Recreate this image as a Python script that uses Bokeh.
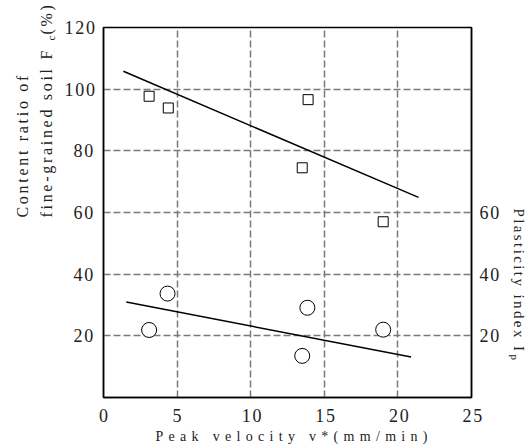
import math
from bokeh.plotting import figure
from bokeh.models import LinearAxis, FixedTicker, Range1d, Label, CustomJS
from bokeh.document import Document
from bokeh.embed import file_html
from bokeh.resources import INLINE

# ---- data ----
fc_velocity = [3.1, 4.4, 13.9, 13.5, 19.0]
fc_content = [97.7, 93.9, 96.6, 74.5, 57.0]
ip_velocity = [3.1, 4.35, 13.85, 13.5, 19.0]
ip_index = [21.9, 33.7, 29.1, 13.5, 22.0]
fc_fit_x = [1.35, 21.4]
fc_fit_y = [105.8, 64.9]
ip_fit_x = [1.55, 20.9]
ip_fit_y = [31.0, 13.1]
x_ticks = [0, 5, 10, 15, 20, 25]
left_ticks = [20, 40, 60, 80, 100, 120]
right_ticks = [20, 40, 60]

# ---- layout constants (pixels) ----
W, H = 532, 448
FL, FR, FT, FB = 103, 471, 27, 397
X0, X1, Y0, Y1 = 0, 25, 0, 120
FONT = "Liberation Serif"

def dx(px):
    return X0 + (px - FL) * (X1 - X0) / (FR - FL)

def dy(py):
    return Y0 + (FB - py) * (Y1 - Y0) / (FB - FT)

CSS = """
[clip-path] { clip-path: none !important; }
text[font-size="14px"] { letter-spacing: 5.3px; }
text[font-size="16px"] { letter-spacing: 2.7px; }
text[font-size="15px"] { letter-spacing: 2.4px; }
text[font-size="18px"] { letter-spacing: 1.8px; }
"""

p = figure(width=W, height=H, output_backend="svg", toolbar_location=None,
           x_range=Range1d(X0, X1), y_range=Range1d(Y0, Y1),
           min_border_left=FL, min_border_right=W - FR,
           min_border_top=FT, min_border_bottom=H - FB,
           background_fill_color="white", border_fill_color="white")

p.outline_line_color = "black"
p.outline_line_width = 1.5

p.xgrid.ticker = FixedTicker(ticks=[5, 10, 15, 20])
p.ygrid.ticker = FixedTicker(ticks=[20, 40, 60, 80, 100])
for g in (p.xgrid, p.ygrid):
    g.grid_line_color = "#7a7a7a"
    g.grid_line_dash = "7 3"
    g.grid_line_width = 1.5

def style_axis(ax):
    ax.axis_line_color = "black"
    ax.axis_line_width = 1.5
    ax.major_tick_line_color = None
    ax.minor_tick_line_color = None
    ax.major_label_text_font = FONT
    ax.major_label_text_font_size = "18px"
    ax.major_label_text_color = "#222222"
    ax.major_label_standoff = 5

xa = p.xaxis[0]
xa.ticker = FixedTicker(ticks=x_ticks)
style_axis(xa)

ya = p.yaxis[0]
ya.ticker = FixedTicker(ticks=left_ticks)
style_axis(ya)
ya.major_label_standoff = 6

ra = LinearAxis(ticker=FixedTicker(ticks=right_ticks))
style_axis(ra)
ra.major_label_standoff = 2
p.add_layout(ra, "right")

p.scatter(fc_velocity, fc_content, marker="square", size=10,
          fill_color="white", line_color="black", line_width=1)
p.scatter(ip_velocity, ip_index, marker="circle", size=15,
          fill_color="white", line_color="black", line_width=1)
p.line(fc_fit_x, fc_fit_y, line_color="black", line_width=1.5)
p.line(ip_fit_x, ip_fit_y, line_color="black", line_width=1.5)

def lab(text, px, py, angle, size):
    p.add_layout(Label(x=dx(px), y=dy(py), text=text, angle=angle,
                       text_font=FONT, text_font_size=size,
                       text_color="#222222", text_align="left",
                       text_baseline="middle"))

# x-axis title
lab("Peak velocity v*(mm/min)", 155, 436, 0, "14px")
# left title (two lines, with subscript c)
lab("Content ratio of", 22, 217, math.pi / 2, "16px")
lab("fine-grained soil F", 46, 217, math.pi / 2, "16px")
lab("c", 50, 40, math.pi / 2, "11px")
lab("(%)", 46, 34, math.pi / 2, "16px")
# right title (with subscript p)
lab("Plasticity index I", 518, 208, -math.pi / 2, "15px")
lab("p", 514, 354, -math.pi / 2, "11px")

doc = Document()
doc.add_root(p)
js = """
const CSS = css;
function inject(root) {
  if (root.__ls) return;
  const s = document.createElement('style');
  s.textContent = CSS;
  root.appendChild(s);
  root.__ls = true;
}
function walk(node) {
  for (const el of node.querySelectorAll('*')) {
    if (el.shadowRoot) { inject(el.shadowRoot); walk(el.shadowRoot); }
  }
}
walk(document);
let n = 0;
const t = setInterval(() => { walk(document); if (++n > 30) clearInterval(t); }, 50);
"""
doc.js_on_event("document_ready", CustomJS(args=dict(css=CSS), code=js))

open("out.html", "w").write(file_html(p, INLINE))
